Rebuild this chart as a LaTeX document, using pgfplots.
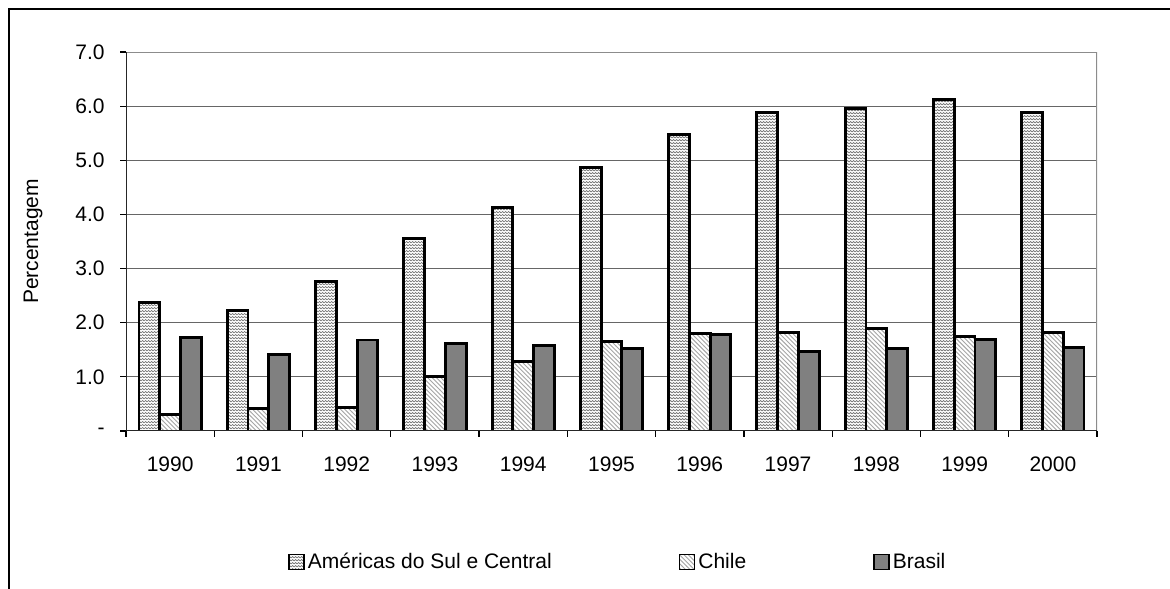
\documentclass[border=0pt]{standalone}
\usepackage{fontspec}
\setmainfont{Liberation Sans}
\usepackage{pgfplots}
\pgfplotsset{compat=1.18}
\usetikzlibrary{patterns}

% fine textures like the old spreadsheet fills
\pgfdeclarepatternformonly{amtex}{\pgfqpoint{-0.1pt}{-0.1pt}}{\pgfqpoint{1.6pt}{1.6pt}}{\pgfqpoint{1.5pt}{1.5pt}}{%
  \pgfsetlinewidth{0.35pt}%
  \pgfpathmoveto{\pgfqpoint{0pt}{0pt}}%
  \pgfpathlineto{\pgfqpoint{0.75pt}{0.75pt}}%
  \pgfpathlineto{\pgfqpoint{1.5pt}{0pt}}%
  \pgfusepath{stroke}}
\pgfdeclarepatternformonly{chl}{\pgfqpoint{-0.5pt}{-0.5pt}}{\pgfqpoint{2.7pt}{2.7pt}}{\pgfqpoint{2.2pt}{2.2pt}}{%
  \pgfsetlinewidth{0.45pt}%
  \pgfpathmoveto{\pgfqpoint{0pt}{2.2pt}}%
  \pgfpathlineto{\pgfqpoint{2.3pt}{-0.1pt}}%
  \pgfusepath{stroke}}

\begin{document}
\begin{tikzpicture}
\path[use as bounding box] (0,0) rectangle (585pt,294pt);
\draw[line width=1.3pt] (4.5pt,-3pt) -- (4.5pt,289.5pt) -- (588pt,289.5pt);
\begin{axis}[
    at={(63pt,78.5pt)}, anchor=south west,
    scale only axis,
    width=485.5pt, height=189.5pt,
    font=\fontsize{10.5}{12}\selectfont,
    ybar=0pt,
    bar width=0.235,
    xmin=-0.5, xmax=10.5,
    ymin=0, ymax=7,
    ytick={0,1,...,7},
    yticklabels={-,1.0,2.0,3.0,4.0,5.0,6.0,7.0},
    xtick={-0.5,0.5,...,10.5},
    xticklabels={1990,1991,1992,1993,1994,1995,1996,1997,1998,1999,2000,{}},
    xticklabel style={xshift=22.07pt, inner sep=0pt, yshift=-9.5pt},
    yticklabel style={inner sep=0pt, xshift=-7.5pt},
    tick align=outside,
    major tick length=3pt,
    tick style={black, line width=0.6pt},
    xtick pos=bottom, ytick pos=left,
    axis line style={draw=none},
    ymajorgrids,
    grid style={black!60, line width=0.5pt},
    ylabel={Percentagem},
    ylabel style={at={(axis description cs:-0.0958,0.5)}, anchor=center},
    legend columns=3,
    legend style={at={(axis description cs:0.507,-0.3456)}, anchor=center,
        draw=none, fill=none, font=\fontsize{10.5}{12}\selectfont,
        /tikz/every even column/.append style={column sep=62pt},
        nodes={inner sep=1.5pt}},
    legend image code/.code={\draw[#1, line width=0.8pt] (0pt,-3.7pt) rectangle (7.5pt,3.7pt);},
]
\addplot[draw=black, line width=1.45pt, fill=white, postaction={pattern=amtex, pattern color=black!55}]
  coordinates {(0,2.37) (1,2.23) (2,2.76) (3,3.55) (4,4.12) (5,4.86) (6,5.48) (7,5.88) (8,5.95) (9,6.13) (10,5.89)};
\addplot[draw=black, line width=1.45pt, fill=white, postaction={pattern=chl, pattern color=black!35}]
  coordinates {(0,0.30) (1,0.41) (2,0.44) (3,1.00) (4,1.28) (5,1.65) (6,1.80) (7,1.82) (8,1.90) (9,1.75) (10,1.82)};
\addplot[draw=black, line width=1.45pt, fill=black!50]
  coordinates {(0,1.72) (1,1.41) (2,1.68) (3,1.61) (4,1.58) (5,1.53) (6,1.79) (7,1.46) (8,1.53) (9,1.69) (10,1.55)};
\legend{Américas do Sul e Central, Chile, Brasil}
\draw[black!45, line width=1.1pt] (rel axis cs:0,1) -- (rel axis cs:1,1) -- (rel axis cs:1,0);
\draw[black!85, line width=0.8pt] (rel axis cs:0,1) -- (rel axis cs:0,0) -- (rel axis cs:1,0);
\end{axis}
\end{tikzpicture}
\end{document}
